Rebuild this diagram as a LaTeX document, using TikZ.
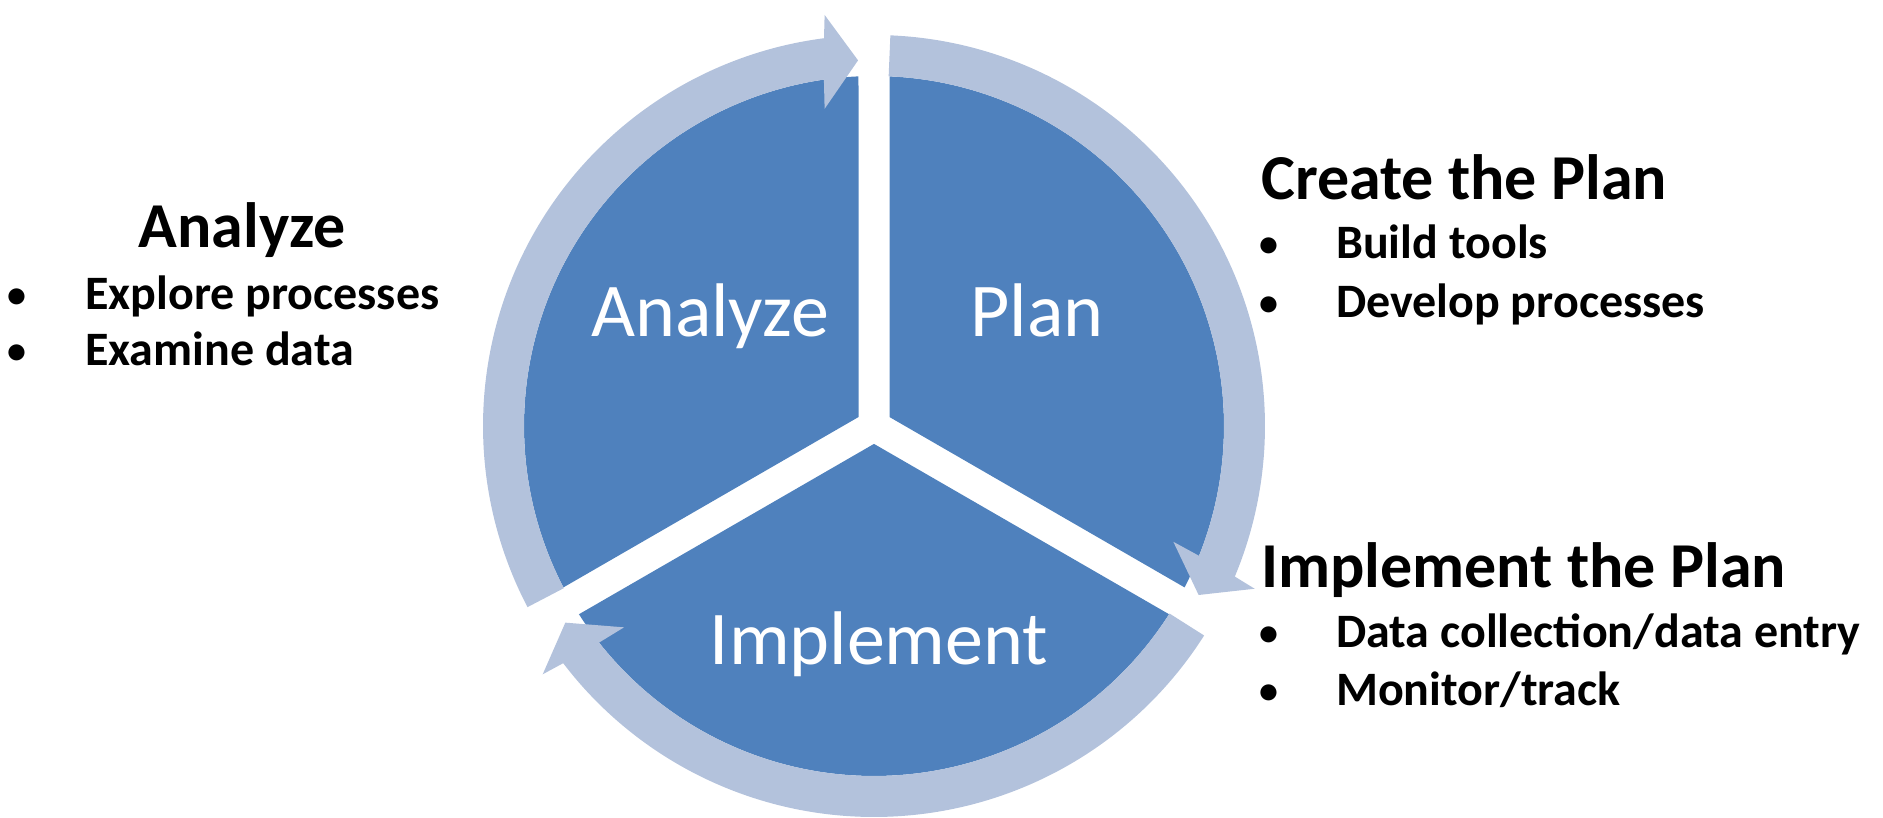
\documentclass[tikz,border=0pt]{standalone}
\usepackage{fontspec}
\setmainfont{Carlito}
\usetikzlibrary{positioning}
\definecolor{pieblue}{RGB}{79,129,189}
\definecolor{ringblue}{RGB}{179,194,220}
% one light ring arrow, #1 tail angle, #2 tip angle (clockwise)
\newcommand{\cyclearrow}[2]{\fill[ringarrow] (#1:391) arc[start angle=#1, end angle={#2+4.85}, radius=391] -- ({#2+4.35}:414) -- (#2:366) -- ({#2+6.35}:321) -- ({#2+5.73}:350) arc[start angle={#2+5.73}, end angle=#1, radius=350] -- cycle;}

\begin{document}
\begin{tikzpicture}[x=1pt,y=1pt]
%Declaration of styles
	\tikzstyle{piece} = [fill=pieblue, draw=none] %style for the pie pieces
	\tikzstyle{ringarrow} = [fill=ringblue, draw=none] %style for the ring arrows
	\tikzstyle{inlabel} = [text=white, font=\fontsize{76}{90}\selectfont, inner sep=0pt, anchor=base] %labels in the pie
	\tikzstyle{heading} = [font=\fontsize{64}{77}\selectfont\bfseries, inner sep=0pt] %titles beside the pie
	\tikzstyle{bulletitem} = [font=\fontsize{48}{58}\selectfont\bfseries, inner sep=0pt, anchor=base west] %bullet texts
	\tikzstyle{bulletdot} = [font=\fontsize{38}{46}\selectfont\bfseries, inner sep=0pt, anchor=base, yshift=2.5] %bullet marks
	\useasboundingbox (0,0) rectangle (1883,817);
	\clip (0,0) rectangle (1883,817);
%The pie and the ring
	\begin{scope}[shift={(874,391)}]
	\fill[piece] (150:17.9) -- (92.54:350) arc[start angle=92.54, end angle=207.46, radius=350] -- cycle;
	\fill[piece] (30:17.9) -- (87.46:350) arc[start angle=87.46, end angle=-27.46, radius=350] -- cycle;
	\fill[piece] (270:17.9) -- (212.54:350) arc[start angle=212.54, end angle=327.46, radius=350] -- cycle;
	\cyclearrow{207.6}{92.5}
	\cyclearrow{87.6}{-27.5}
	\cyclearrow{-32.4}{-147.5}
	\end{scope}
%Labels in the pie
	\node [inlabel] (analyze) at (710,480) {Analyze};
	\node [inlabel] (plan) at (1037,480) {Plan};
	\node [inlabel] (implement) at (879,152) {Implement};
%Left text
	\node [heading, anchor=base] (analyzehead) at (242,569) {Analyze};
	\node [bulletdot] (dotexplore) at (17,507) {\textbullet};
	\node [bulletitem] (explore) at (85,507) {Explore processes};
	\node [bulletdot] (dotexamine) at (17,451) {\textbullet};
	\node [bulletitem] (examine) at (85,451) {Examine data};
%Right text, the plan
	\node [heading, anchor=base west] (createhead) at (1261,617) {Create the Plan};
	\node [bulletdot] (dotbuild) at (1269,558) {\textbullet};
	\node [bulletitem] (build) at (1336,558) {Build tools};
	\node [bulletdot] (dotdevelop) at (1269,499) {\textbullet};
	\node [bulletitem] (develop) at (1336,499) {Develop processes};
%Right text, the implementation
	\node [heading, anchor=base west] (implementhead) at (1261,229) {Implement the Plan};
	\node [bulletdot] (dotdata) at (1269,169) {\textbullet};
	\node [bulletitem] (data) at (1336,169) {Data collection/data entry};
	\node [bulletdot] (dotmonitor) at (1269,111) {\textbullet};
	\node [bulletitem] (monitor) at (1336,111) {Monitor/track};
\end{tikzpicture}
\end{document}
